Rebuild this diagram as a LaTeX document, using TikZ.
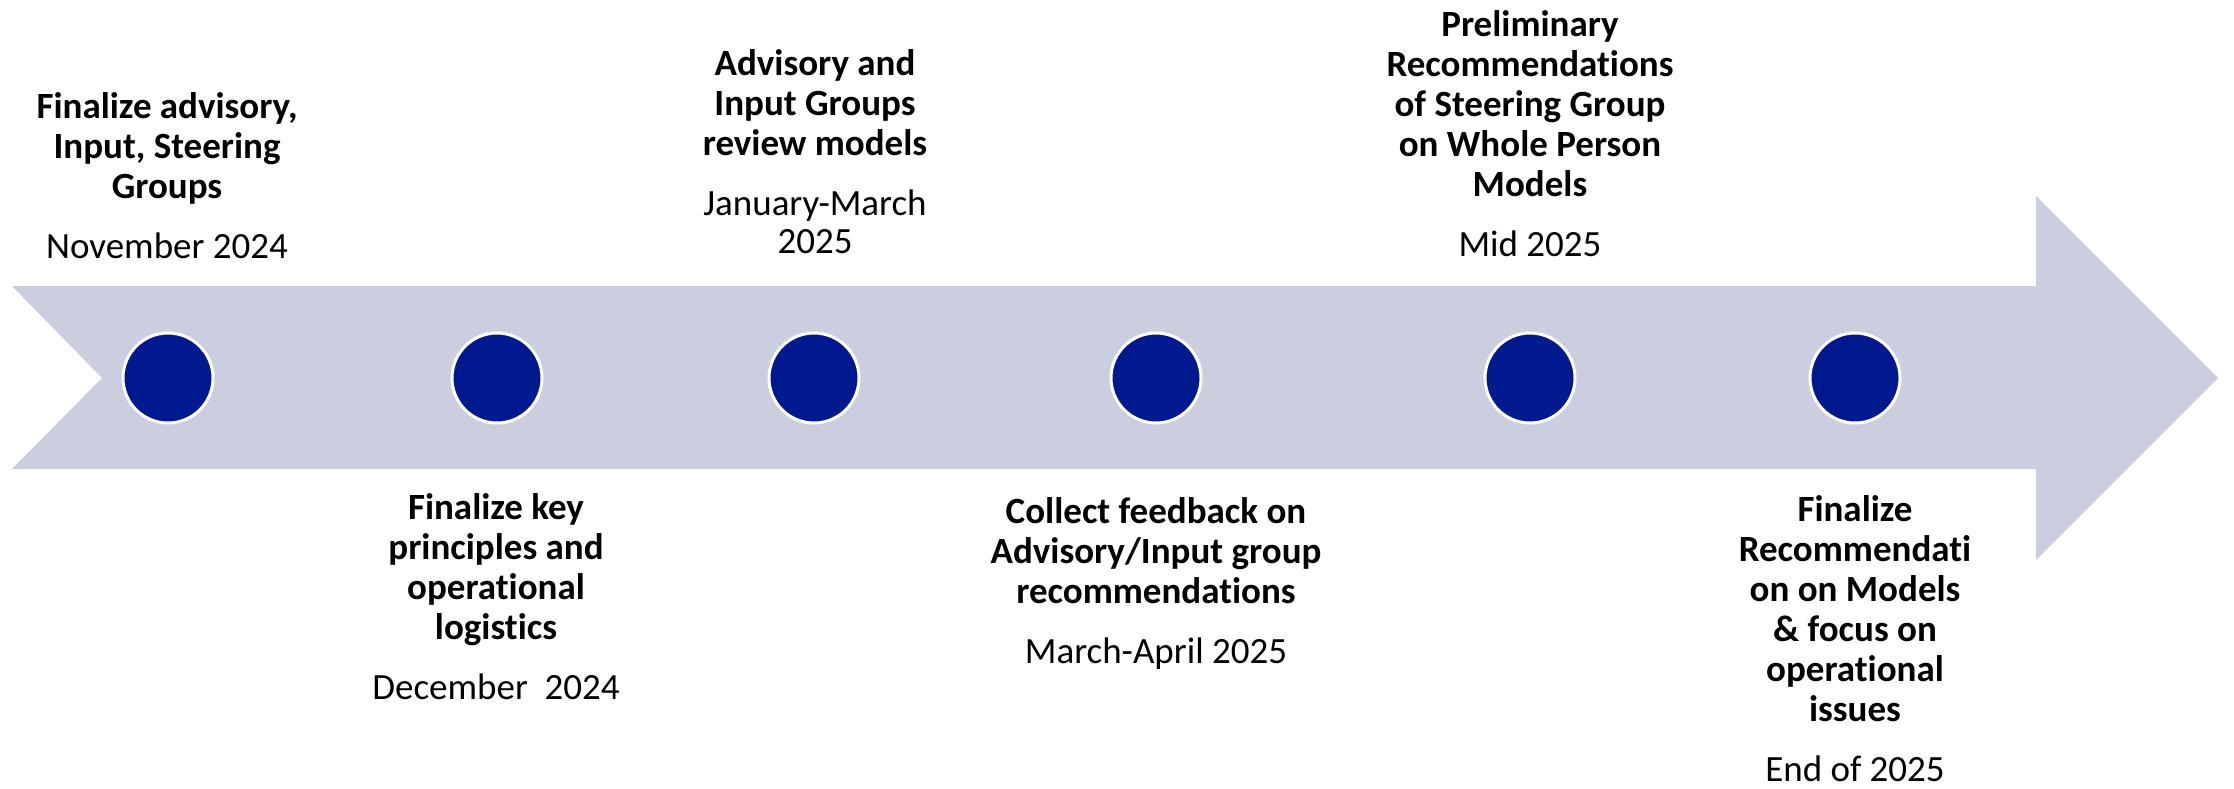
\documentclass[tikz,border=0pt]{standalone}
\usepackage{fontspec}
\usepackage{array}
\setmainfont[RawFeature=-liga]{Carlito}
\definecolor{arrowfill}{RGB}{203,206,222}
\definecolor{dotblue}{RGB}{0,25,143}
\newcommand{\tl}[2]{{\fontsize{37}{40}\selectfont\begin{tabular}[t]{@{}>{\bfseries}c@{}}#1\\[20pt]\mdseries #2\end{tabular}}}
\begin{document}
\begin{tikzpicture}[x=1pt,y=-1pt,
  dot/.style={circle,fill=dotblue,draw=white,line width=3pt,minimum size=90pt,inner sep=0pt},
  lbl/.style={anchor=base,inner sep=0pt,text=black}]
\useasboundingbox (0,0) rectangle (2234,788);
\fill[arrowfill] (12,286) -- (2036,286) -- (2036,196) -- (2218,378) -- (2036,560) -- (2036,469) -- (12,469) -- (102,378) -- cycle;
\node[dot] (d1) at (168,378) {};
\node[dot] (d2) at (497,378) {};
\node[dot] (d3) at (814,378) {};
\node[dot] (d4) at (1156,378) {};
\node[dot] (d5) at (1530,378) {};
\node[dot] (d6) at (1855,378) {};
\node[lbl] (t1) at (167,118) {\tl{Finalize advisory,\\Input, Steering\\Groups}{November 2024}};
\node[lbl] (t2) at (496,519) {\tl{Finalize key\\principles and\\operational\\logistics}{December\ \ 2024}};
\node[lbl] (t3) at (815,75) {\tl{Advisory and\\Input Groups\\review models}{January-March\\[-2pt]\mdseries 2025}};
\node[lbl] (t4) at (1156,523) {\tl{Collect feedback on\\Advisory/Input group\\recommendations}{March-April 2025}};
\node[lbl] (t5) at (1530,36) {\tl{Preliminary\\Recommendations\\of Steering Group\\on Whole Person\\Models}{Mid 2025}};
\node[lbl] (t6) at (1855,521) {\tl{Finalize\\Recommendati\\on on Models\\\& focus on\\operational\\issues}{End of 2025}};
\end{tikzpicture}
\end{document}
